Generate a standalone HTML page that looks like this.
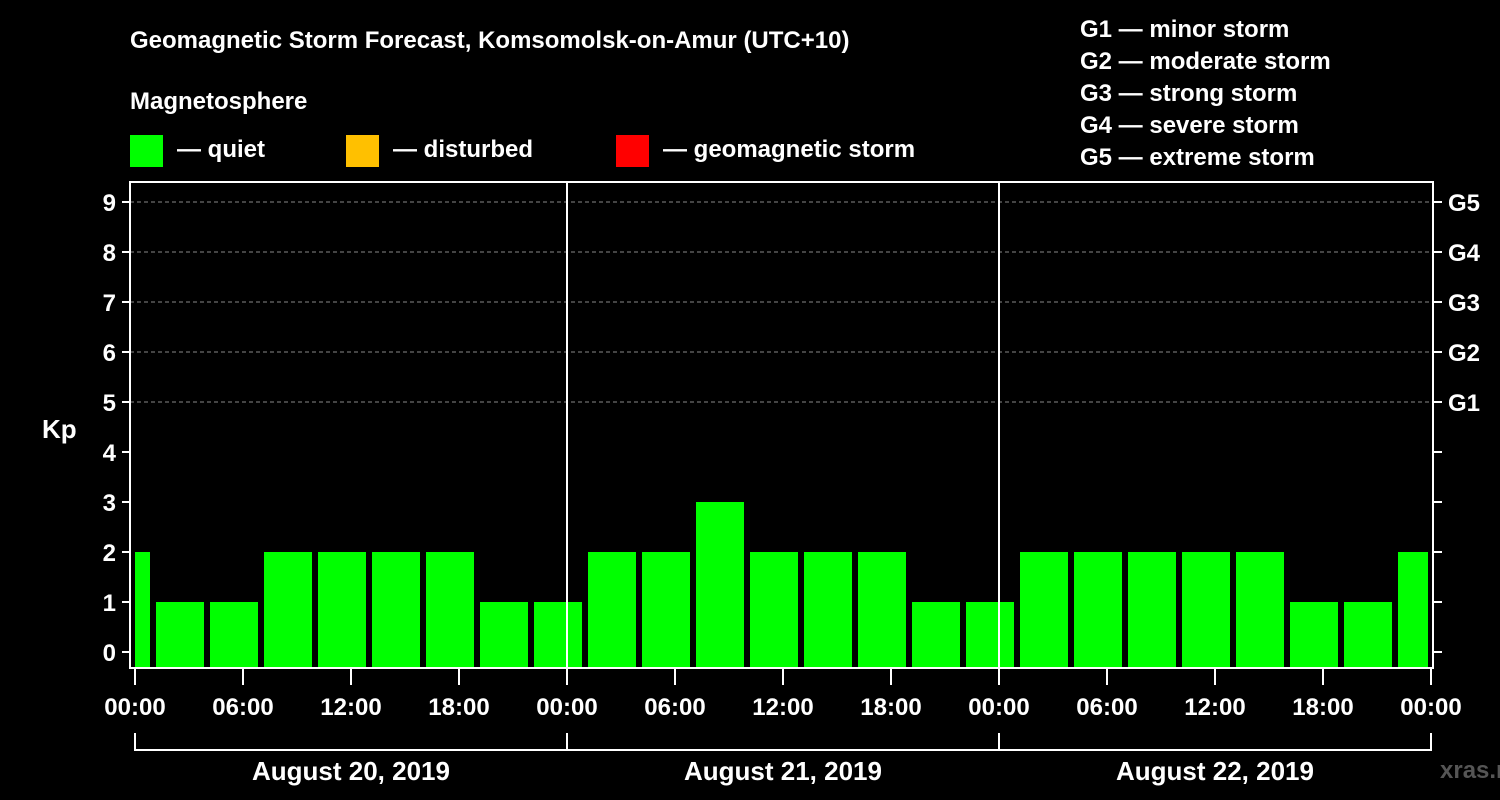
<!DOCTYPE html>
<html><head><meta charset="utf-8"><style>
body{margin:0;background:#000;}
svg{display:block;font-family:"Liberation Sans",sans-serif;font-weight:bold;}
</style></head><body>
<svg id="c" width="1500" height="800">
<rect width="1500" height="800" fill="#000"/>
<text x="130" y="48" fill="#fff" font-size="24">Geomagnetic Storm Forecast, Komsomolsk-on-Amur (UTC+10)</text>
<text x="130" y="109" fill="#fff" font-size="24">Magnetosphere</text>
<g><rect x="130" y="135" width="33" height="32" fill="#00ff00"/><text x="177" y="157" fill="#fff" font-size="24">— quiet</text></g>
<g><rect x="346" y="135" width="33" height="32" fill="#ffc000"/><text x="393" y="157" fill="#fff" font-size="24">— disturbed</text></g>
<g><rect x="616" y="135" width="33" height="32" fill="#ff0000"/><text x="663" y="157" fill="#fff" font-size="24">— geomagnetic storm</text></g>
<g fill="#fff" font-size="24">
<text x="1080" y="37">G1 — minor storm</text><text x="1080" y="69">G2 — moderate storm</text><text x="1080" y="101">G3 — strong storm</text><text x="1080" y="133">G4 — severe storm</text><text x="1080" y="165">G5 — extreme storm</text>
</g>
<text x="42" y="438" fill="#fff" font-size="26">Kp</text>
<text x="1440" y="778" fill="#555" font-size="24">xras.ru</text>
<g id="plot"></g>
</svg>
<script>
const values=[2,1,1,2,2,2,2,1,1,2,2,3,2,2,2,1,1,2,2,2,2,2,1,1,2];
const yTicks=[0,1,2,3,4,5,6,7,8,9];
const gLabels=["G1","G2","G3","G4","G5"];
const xTickLabels=["00:00","06:00","12:00","18:00"];
const dayLabels=["August 20, 2019","August 21, 2019","August 22, 2019"];
const NS="http://www.w3.org/2000/svg";
const L=130,R=1433,T=182,B=668,X0=135,PXH=18;
const y=v=>652-50*v;
const x=h=>X0+PXH*h;
const g=document.getElementById('plot');
function mk(t,a,p){const e=document.createElementNS(NS,t);for(const k in a)e.setAttribute(k,a[k]);(p||g).appendChild(e);return e;}
const clip=mk('clipPath',{id:'cp'});mk('rect',{x:X0,y:T,width:x(72)-X0-3,height:B-T},clip);
yTicks.forEach(v=>{
 if(v>=5){const l=mk('line',{x1:L,x2:R,y1:y(v),y2:y(v),stroke:'#888','stroke-dasharray':'4,3','stroke-width':1});}
 const t=mk('line',{x1:L-8,x2:L,y1:y(v),y2:y(v),stroke:'#fff','stroke-width':2});
 const t2=mk('line',{x1:R,x2:R+9,y1:y(v),y2:y(v),stroke:'#fff','stroke-width':2});
 const tx=mk('text',{x:L-14,y:y(v)+9,fill:'#fff','font-size':24,'text-anchor':'end'});tx.textContent=v;
});
gLabels.forEach((s,i)=>{const tx=mk('text',{x:1448,y:y(5+i)+9,fill:'#fff','font-size':24});tx.textContent=s;});
const bg=mk('g',{'clip-path':'url(#cp)'});
values.forEach((v,k)=>{const c=x(3*k-0.5);const r=mk('rect',{x:c-24,width:48,y:y(v),height:B-y(v),fill:v>=5?'#ff0000':(v>=4?'#ffc000':'#00ff00')},bg);});
for(let d=1;d<3;d++){const l=mk('line',{x1:x(24*d),x2:x(24*d),y1:T,y2:B,stroke:'#fff','stroke-width':2});}
const fr=mk('rect',{x:L,y:T,width:R-L,height:B-T,fill:'none',stroke:'#fff','stroke-width':2});
for(let h=0;h<=72;h+=6){const lab=h==72?"00:00":xTickLabels[(h%24)/6];const t=mk('line',{x1:x(h),x2:x(h),y1:B,y2:B+17,stroke:'#fff','stroke-width':2});
 const tx=mk('text',{x:x(h),y:715,fill:'#fff','font-size':24,'text-anchor':'middle'});tx.textContent=lab;}
const br=mk('path',{d:`M${x(0)} 733V750H${x(72)}V733`,fill:'none',stroke:'#fff','stroke-width':2});
for(let d=1;d<3;d++){const l=mk('line',{x1:x(24*d),x2:x(24*d),y1:733,y2:750,stroke:'#fff','stroke-width':2});}
dayLabels.forEach((s,i)=>{const tx=mk('text',{x:x(24*i+12),y:780,fill:'#fff','font-size':26,'text-anchor':'middle'});tx.textContent=s;});
</script>
</body></html>
